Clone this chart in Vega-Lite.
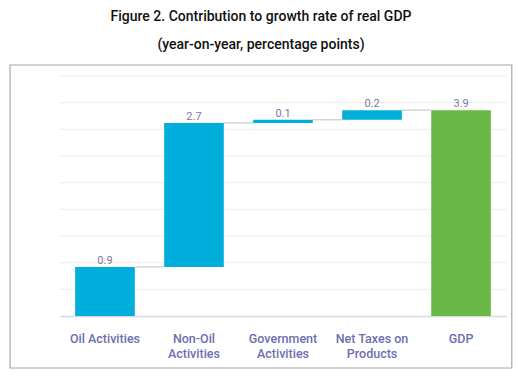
{
  "$schema": "https://vega.github.io/schema/vega-lite/v6.json",
  "width": 446,
  "height": 240,
  "autosize": {"type": "none"},
  "padding": {"left": 60, "top": 76, "right": 24, "bottom": 67},
  "background": "white",
  "config": {"view": {"stroke": null}, "font": "Roboto"},
  "title": {
    "text": ["Figure 2. Contribution to growth rate of real GDP", "(year-on-year, percentage points)"],
    "fontSize": 14,
    "fontWeight": 500,
    "color": "#111111",
    "lineHeight": 28,
    "anchor": "middle",
    "frame": "group",
    "dx": -22,
    "offset": 12
  },
  "datasets": {
    "grid": [{"g": 0.5}, {"g": 1}, {"g": 1.5}, {"g": 2}, {"g": 2.5}, {"g": 3}, {"g": 3.5}, {"g": 4}, {"g": 4.5}]
  },
  "data": {
    "values": [
      {"cat": "Oil Activities", "start": 0, "end": 0.92, "value": 0.92, "next": "Non-Oil Activities", "kind": "part"},
      {"cat": "Non-Oil Activities", "start": 0.92, "end": 3.62, "value": 2.70, "next": "Government Activities", "kind": "part"},
      {"cat": "Government Activities", "start": 3.62, "end": 3.68, "value": 0.06, "next": "Net Taxes on Products", "kind": "part"},
      {"cat": "Net Taxes on Products", "start": 3.68, "end": 3.86, "value": 0.18, "next": "GDP", "kind": "part"},
      {"cat": "GDP", "start": 0, "end": 3.86, "value": 3.86, "next": null, "kind": "total"}
    ]
  },
  "layer": [
    {
      "data": {"values": [{"x0": -0.112, "x1": 1.013, "y0": -0.975, "y1": 4.706}]},
      "mark": {"type": "rect", "fill": null, "stroke": "#a8a8a8", "strokeWidth": 1.2, "clip": false},
      "encoding": {
        "x": {"field": "x0", "type": "quantitative", "scale": {"domain": [0, 1], "nice": false, "zero": false}, "axis": null},
        "x2": {"field": "x1"},
        "y": {"field": "y0", "type": "quantitative", "axis": null},
        "y2": {"field": "y1"}
      }
    },
    {
      "layer": [
        {
          "data": {"name": "grid"},
          "mark": {"type": "rule", "color": "#ebebeb", "strokeWidth": 1},
          "encoding": {
            "y": {"field": "g", "type": "quantitative", "axis": null}
          }
        },
        {
          "mark": {"type": "bar"},
          "encoding": {
            "x": {
              "field": "cat", "type": "nominal", "sort": null,
              "scale": {"paddingInner": 0.33, "paddingOuter": 0.17},
              "axis": {
                "title": null, "labelAngle": 0, "ticks": false, "orient": "bottom",
                "domain": true, "domainColor": "#d8d8e0", "domainWidth": 1.5,
                "labelPadding": 22, "labelFontSize": 12.5, "labelColor": "#6e6eb0",
                "labelFontWeight": 500, "labelLineHeight": 15, "labelBaseline": "middle",
                "labelExpr": "datum.value == 'Oil Activities' || indexof(datum.value, ' ') < 0 ? datum.value : [substring(datum.value, 0, lastindexof(datum.value, ' ')), substring(datum.value, lastindexof(datum.value, ' ') + 1)]"
              }
            },
            "y": {
              "field": "start", "type": "quantitative",
              "scale": {"domain": [0, 4.5], "nice": false},
              "axis": {
                "title": "Percentage Points", "titleColor": "#9b9bdc", "titleFontSize": 12.5, "titleFontWeight": "normal",
                "titlePadding": 26, "labels": false, "ticks": false, "domain": false, "grid": false
              }
            },
            "y2": {"field": "end"},
            "color": {
              "field": "kind", "type": "nominal",
              "scale": {"domain": ["part", "total"], "range": ["#00aedb", "#6ab946"]},
              "legend": null
            }
          }
        },
        {
          "transform": [{"filter": "datum.next != null"}],
          "mark": {"type": "rule", "color": "#d4d4d4", "strokeWidth": 1.5},
          "encoding": {
            "x": {"field": "cat", "type": "nominal", "sort": null, "bandPosition": 1},
            "x2": {"field": "next", "bandPosition": 0},
            "y": {"field": "end", "type": "quantitative", "axis": null}
          }
        },
        {
          "mark": {"type": "text", "baseline": "bottom", "dy": -1, "fontSize": 11, "color": "#7878a8"},
          "encoding": {
            "x": {"field": "cat", "type": "nominal", "sort": null},
            "y": {"field": "end", "type": "quantitative", "axis": null},
            "text": {"field": "value", "type": "quantitative", "format": ".1f"}
          }
        }
      ]
    }
  ],
  "resolve": {"scale": {"x": "independent"}, "axis": {"x": "independent", "y": "independent"}}
}
